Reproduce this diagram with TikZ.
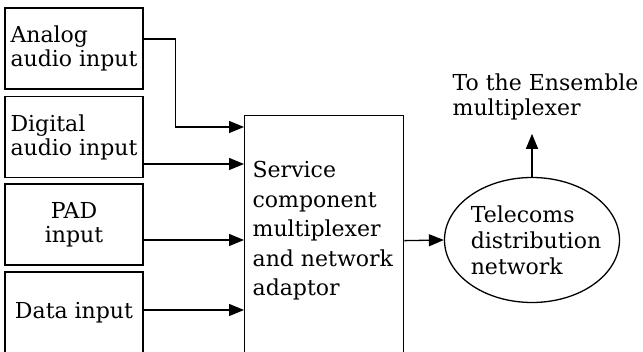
\documentclass[tikz,border=0pt]{standalone}
\usepackage{fontspec}
\setmainfont{DejaVu Serif}
\usetikzlibrary{arrows.meta,shapes.geometric}
\begin{document}
\begin{tikzpicture}[x=1pt,y=1pt,line width=1.3pt,>={Triangle[length=15pt,width=12pt]},
  every node/.style={font=\fontsize{22}{25}\selectfont,inner sep=4pt},
  srcbox/.style={draw,minimum width=138pt,minimum height=81pt,align=left,font=\fontsize{22}{24}\selectfont}]
\useasboundingbox (0,0) rectangle (643,352);
\clip (0,0) rectangle (643,352);
\node[srcbox] (analog) at (74,303.5) {Analog\\audio input};
\node[srcbox] (digital) at (74,215) {Digital\\audio input};
\node[srcbox,align=center] (pad) at (74,127.5) {PAD\\input};
\node[srcbox,align=center] (data) at (74,39.5) {Data input};
\node[draw,minimum width=159pt,minimum height=250pt,anchor=north west] (mux) at (244,237) {};
\node[anchor=west,align=left,font=\fontsize{22}{29.5}\selectfont] (muxtext) at (248,121) {Service\\component\\multiplexer\\and network\\adaptor};
\node[draw,ellipse,minimum width=175pt,minimum height=125pt,align=left,inner xsep=-10pt,inner ysep=0pt,font=\fontsize{22}{26}\selectfont] (tel) at (532,112) {\hspace*{8pt}Telecoms\\\hspace*{8pt}distribution\\\hspace*{8pt}network};
\node[anchor=north west,align=left] (dest) at (448,283) {To the Ensemble\\multiplexer};
\coordinate (in1) at ([yshift=-12pt]mux.north west);
\coordinate (in2) at ([yshift=-49pt]mux.north west);
\coordinate (in3) at ([yshift=-125pt]mux.north west);
\coordinate (in4) at ([yshift=-195pt]mux.north west);
\coordinate (up) at ([yshift=43pt]tel.north);
\draw[->] ([yshift=9.5pt]analog.east) -- ++(32,0) |- (in1);
\draw[->] (digital.east |- in2) -- (in2);
\draw[->] (pad.east |- in3) -- (in3);
\draw[->] (data.east |- in4) -- (in4);
\draw[->] (mux.east) -- (tel.west);
\draw[->] (tel.north) -- (up);
\end{tikzpicture}
\end{document}
